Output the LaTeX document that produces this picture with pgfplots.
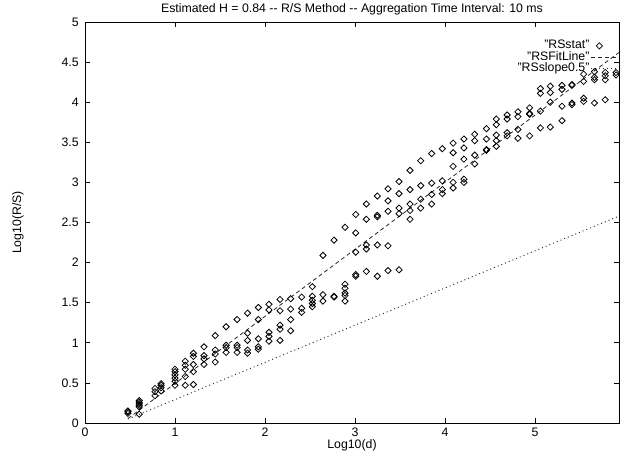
\documentclass[border=0pt]{standalone}
\usepackage{fontspec}
\setmainfont{Liberation Sans}
\usepackage{pgfplots}
\usepackage{pgfplotstable}
\pgfplotsset{compat=1.18}
\pgfplotsset{legend image code/.code={%
  \draw[mark repeat=2,mark phase=2,#1]
    plot coordinates {(0bp,0bp) (8bp,0bp) (27bp,0bp)};}}
\pgfplotstableread{
x y
0.477 0.12
0.477 0.14
0.477 0.15
0.602 0.11
0.602 0.20
0.602 0.22
0.602 0.24
0.602 0.26
0.602 0.28
0.778 0.34
0.778 0.39
0.778 0.43
0.845 0.40
0.845 0.44
0.845 0.47
0.845 0.49
1.000 0.47
1.000 0.52
1.000 0.56
1.000 0.60
1.000 0.64
1.000 0.67
1.114 0.47
1.114 0.58
1.114 0.67
1.114 0.72
1.114 0.77
1.204 0.48
1.204 0.64
1.204 0.73
1.204 0.83
1.204 0.87
1.322 0.73
1.322 0.80
1.322 0.84
1.322 0.95
1.447 0.76
1.447 0.86
1.447 0.91
1.447 1.09
1.568 0.88
1.568 0.94
1.568 0.97
1.568 1.20
1.690 0.88
1.690 0.94
1.690 0.97
1.690 1.29
1.806 0.87
1.806 0.91
1.806 1.03
1.806 1.12
1.806 1.37
1.926 0.92
1.926 0.95
1.926 1.05
1.926 1.29
1.926 1.44
2.044 1.02
2.044 1.08
2.044 1.13
2.044 1.41
2.044 1.48
2.167 1.03
2.167 1.17
2.167 1.22
2.167 1.40
2.167 1.54
2.285 1.15
2.285 1.29
2.285 1.42
2.285 1.55
2.407 1.38
2.407 1.43
2.407 1.57
2.526 1.45
2.526 1.49
2.526 1.53
2.526 1.58
2.526 1.70
2.644 1.52
2.644 1.60
2.644 2.09
2.767 1.57
2.767 1.58
2.767 2.28
2.889 1.52
2.889 1.59
2.889 1.62
2.889 1.68
2.889 1.73
2.889 2.44
3.008 1.83
3.008 1.85
3.008 2.13
3.008 2.37
3.008 2.60
3.126 1.89
3.126 2.17
3.126 2.22
3.126 2.54
3.126 2.73
3.248 1.83
3.248 2.22
3.248 2.57
3.248 2.59
3.248 2.83
3.367 1.90
3.367 2.21
3.367 2.64
3.367 2.77
3.367 2.92
3.489 1.91
3.489 2.61
3.489 2.68
3.489 2.86
3.489 3.01
3.611 2.54
3.611 2.65
3.611 2.73
3.611 2.91
3.611 3.15
3.730 2.68
3.730 2.79
3.730 2.96
3.730 3.27
3.852 2.73
3.852 2.85
3.852 2.99
3.852 3.36
3.970 2.86
3.970 2.91
3.970 3.02
3.970 3.42
4.090 2.93
4.090 3.00
4.090 3.20
4.090 3.37
4.090 3.49
4.210 3.00
4.210 3.04
4.210 3.29
4.210 3.43
4.210 3.54
4.330 3.23
4.330 3.34
4.330 3.52
4.330 3.60
4.460 3.40
4.460 3.41
4.460 3.54
4.460 3.67
4.570 3.45
4.570 3.52
4.570 3.59
4.570 3.72
4.570 3.79
4.690 3.58
4.690 3.62
4.690 3.79
4.690 3.84
4.810 3.55
4.810 3.66
4.810 3.82
4.810 3.88
4.940 3.58
4.940 3.85
4.940 3.86
4.940 3.93
5.060 3.68
5.060 3.89
5.060 4.11
5.060 4.17
5.170 3.69
5.170 4.00
5.170 4.12
5.170 4.20
5.300 3.77
5.300 3.95
5.300 4.16
5.300 4.21
5.410 3.97
5.410 3.99
5.410 4.21
5.410 4.22
5.540 4.01
5.540 4.05
5.540 4.26
5.540 4.35
5.660 3.99
5.660 4.28
5.660 4.31
5.660 4.38
5.780 4.03
5.780 4.28
5.780 4.33
5.780 4.37
5.900 4.34
5.900 4.37
}\rsstat
\pgfplotstableread{
x y
0.477 0.055
5.933 4.620
}\rsfit
\pgfplotstableread{
x y
0.477 0.050
5.933 2.580
}\rsslope
\begin{document}
\fontsize{12.3bp}{14bp}\selectfont
\begin{tikzpicture}
\begin{axis}[
  at={(0,0)}, anchor=south west,
  scale only axis, width=534bp, height=401bp,
  xmin=0, xmax=5.933, ymin=0, ymax=5,
  xtick={0,1,2,3,4,5},
  ytick={0,0.5,1,1.5,2,2.5,3,3.5,4,4.5,5},
  /pgf/number format/assume math mode=true,
  axis line style={black, line width=0.7pt},
  major tick length=5bp,
  every tick/.style={black, line width=0.7pt},
  tick align=inside,
  xticklabel style={yshift=-1bp},
  yticklabel style={xshift=-2bp},
  title={Estimated H = 0.84 -{}- R/S Method -{}- Aggregation Time Interval: 10 ms},
  title style={at={(axis description cs:0.5,1)}, anchor=base, yshift=4bp},
  xlabel={Log10(d)},
  xlabel style={at={(axis description cs:0.5,-0.055)}, anchor=center},
  ylabel={Log10(R/S)},
  ylabel style={at={(axis description cs:-0.1255,0.5)}, anchor=center},
  legend cell align=right,
  legend plot pos=right,
  legend style={at={(axis description cs:1,0.955)}, anchor=north east,
    draw=none, fill=none, inner sep=0pt, row sep=0pt,
    nodes={inner xsep=1.5bp, inner ysep=0pt, text height=8.5bp, text depth=2.8bp}},
]
\addplot[only marks, mark=square, mark size=2.2bp,
  mark options={rotate=45, line width=0.8bp, draw=black, fill=none}]
  table[x=x,y=y] {\rsstat};
\addlegendentry{"RSstat"}
\addplot[black!85, line width=0.8bp, dash pattern=on 4bp off 3bp, no marks]
  table[x=x,y=y] {\rsfit};
\addlegendentry{"RSFitLine"}
\addplot[black!85, line width=0.9bp, dash pattern=on 1bp off 3bp, no marks]
  table[x=x,y=y] {\rsslope};
\addlegendentry{"RSslope0.5"}
\end{axis}
\pgfresetboundingbox
\path[use as bounding box] (-85bp,-32bp) rectangle (537bp,423bp);
\end{tikzpicture}
\end{document}
